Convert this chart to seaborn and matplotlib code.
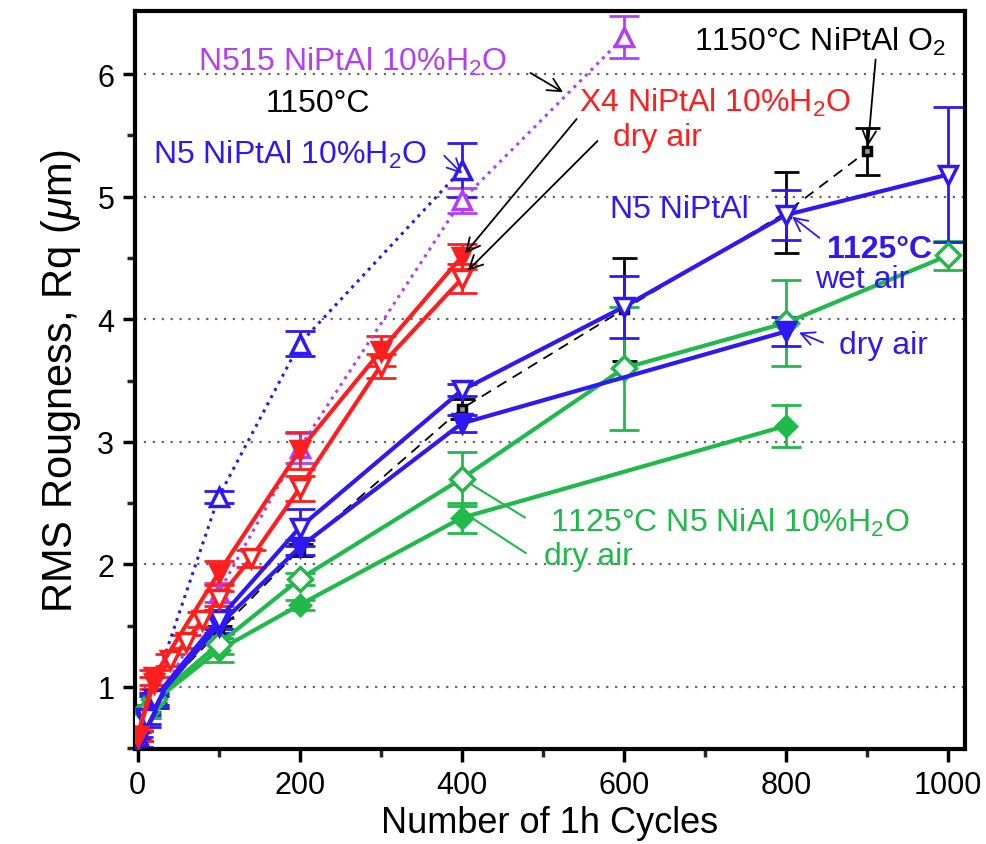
import numpy as np
import pandas as pd
import matplotlib
matplotlib.use("Agg")
import matplotlib.pyplot as plt
import seaborn as sns

# ---------------- data ----------------
x_n515_wet = [0, 100, 200, 400, 600]
y_n515_wet = [0.60, 1.77, 2.95, 4.97, 6.30]
e_n515_wet = [0.04, 0.08, 0.12, 0.10, 0.17]

x_n5_1150_wet = [0, 100, 200, 400]
y_n5_1150_wet = [0.60, 2.55, 3.80, 5.22]
e_n5_1150_wet = [0.04, 0.05, 0.10, 0.22]

x_x4_wet = [0, 20, 100, 200, 300, 400]
y_x4_wet = [0.60, 1.08, 1.93, 2.93, 3.74, 4.51]
e_x4_wet = [0.04, 0.06, 0.10, 0.15, 0.12, 0.10]

x_x4_dry = [0, 20, 40, 60, 80, 100, 140, 200, 300, 400]
y_x4_dry = [0.60, 1.03, 1.22, 1.37, 1.55, 1.72, 2.05, 2.62, 3.62, 4.33]
e_x4_dry = [0.04, 0.05, 0.05, 0.05, 0.06, 0.06, 0.07, 0.10, 0.10, 0.12]

x_n5_1125_wet = [0, 10, 20, 100, 200, 400, 600, 800, 1000]
y_n5_1125_wet = [0.60, 0.75, 0.90, 1.55, 2.30, 3.42, 4.10, 4.85, 5.18]
e_n5_1125_wet = [0.04, 0.05, 0.05, 0.08, 0.15, 0.05, 0.25, 0.20, 0.55]

x_n5_1125_dry = [0, 10, 20, 100, 200, 400, 800]
y_n5_1125_dry = [0.55, 0.72, 0.88, 1.50, 2.14, 3.15, 3.90]
e_n5_1125_dry = [0.04, 0.05, 0.05, 0.06, 0.06, 0.07, 0.12]

x_nial_wet = [0, 10, 20, 100, 200, 400, 600, 800, 1000]
y_nial_wet = [0.75, 0.80, 0.90, 1.35, 1.88, 2.70, 3.60, 3.97, 4.52]
e_nial_wet = [0.05, 0.05, 0.05, 0.08, 0.05, 0.22, 0.50, 0.35, 0.12]

x_nial_dry = [0, 10, 20, 100, 200, 400, 800]
y_nial_dry = [0.70, 0.80, 0.88, 1.30, 1.67, 2.38, 3.13]
e_nial_dry = [0.05, 0.05, 0.05, 0.10, 0.04, 0.12, 0.17]

x_o2 = [0, 20, 100, 200, 400, 600, 800, 900]
y_o2 = [0.60, 0.90, 1.45, 2.12, 3.27, 4.08, 4.87, 5.37]
e_o2 = [0.03, 0.03, 0.05, 0.05, 0.08, 0.42, 0.33, 0.19]

x_ticks = [0, 200, 400, 600, 800, 1000]
y_ticks = [1, 2, 3, 4, 5, 6]

MAG = "#B23EF8"
BLUE = "#2E18F4"
RED = "#FF1E1E"
GREEN = "#1FBA4A"

# ---------------- style ----------------
sns.set_theme(style="ticks")
plt.rcParams["font.family"] = ["Liberation Sans", "DejaVu Sans"]
plt.rcParams["mathtext.fontset"] = "custom"
plt.rcParams["mathtext.rm"] = "Liberation Sans"
plt.rcParams["mathtext.it"] = "Liberation Sans:italic"

fig = plt.figure(figsize=(9.86, 8.45), dpi=100)
ax = fig.add_axes([0.137, 0.1124, 0.8417, 0.8734])

series = [
    # x, y, err, color, marker, mfc, ls, lw, ms
    (x_n515_wet, y_n515_wet, e_n515_wet, MAG, "^", "white", ":", 2.2, 13),
    (x_n5_1150_wet, y_n5_1150_wet, e_n5_1150_wet, BLUE, "^", "white", ":", 2.2, 13),
    (x_o2, y_o2, e_o2, "black", "s", "#999999", (0, (6, 4)), 1.3, 6),
    (x_nial_dry, y_nial_dry, e_nial_dry, GREEN, "D", GREEN, "-", 3.0, 10),
    (x_nial_wet, y_nial_wet, e_nial_wet, GREEN, "D", "white", "-", 3.0, 12),
    (x_n5_1125_dry, y_n5_1125_dry, e_n5_1125_dry, BLUE, "v", BLUE, "-", 3.0, 13),
    (x_n5_1125_wet, y_n5_1125_wet, e_n5_1125_wet, BLUE, "v", "white", "-", 3.0, 13),
    (x_x4_dry, y_x4_dry, e_x4_dry, RED, "v", "white", "-", 3.0, 13),
    (x_x4_wet, y_x4_wet, e_x4_wet, RED, "v", RED, "-", 3.0, 13),
]

for xs, ys, es, c, m, mfc, ls, lw, ms in series:
    df = pd.DataFrame({"x": xs, "y": ys})
    ax.errorbar(xs, ys, yerr=es, fmt="none", ecolor=c, elinewidth=2.0,
                capsize=11 if c != "black" else 9, capthick=2.0, zorder=2)
    sns.lineplot(data=df, x="x", y="y", ax=ax, color=c, marker=m,
                 markersize=ms, markerfacecolor=mfc, markeredgecolor=c,
                 markeredgewidth=2.5, linestyle=ls, linewidth=lw,
                 sort=False, zorder=3)

ax.set_xlim(-3, 1021)
ax.set_ylim(0.494, 6.514)
ax.set_xticks(x_ticks)
ax.set_xticks(np.arange(100, 1000, 200), minor=True)
ax.set_yticks(y_ticks)
ax.set_yticks(np.arange(0.5, 6.5, 1.0), minor=True)
ax.tick_params(axis="both", which="major", labelsize=22, length=9, width=2.5,
               direction="out", color="black", labelcolor="black", pad=6)
ax.tick_params(axis="both", which="minor", length=6, width=2.5, direction="out")
for s in ax.spines.values():
    s.set_linewidth(3.0)
    s.set_color("black")
ax.set_axisbelow(True)
ax.yaxis.grid(True, linestyle=(0, (1, 3)), color="#666666", linewidth=1.6)
ax.xaxis.grid(False)

ax.set_xlabel("Number of 1h Cycles", fontsize=26, labelpad=4, color="black")
ax.set_ylabel(r"RMS Rougness, Rq ($\mu$m)", fontsize=30, labelpad=10, color="black")

# ---------------- annotations ----------------
fs = 23
ax.text(266, 6.11, "N515 NiPtAl 10%H$_2$O", color=MAG, fontsize=fs, ha="center", va="center")
ax.text(223, 5.76, "1150°C", color="black", fontsize=fs, ha="center", va="center")
ax.text(188, 5.35, "N5 NiPtAl 10%H$_2$O", color=BLUE, fontsize=fs, ha="center", va="center")
ax.text(842, 6.27, "1150°C NiPtAl O$_2$", color="black", fontsize=fs, ha="center", va="center")
ax.text(713, 5.77, "X4 NiPtAl 10%H$_2$O", color=RED, fontsize=fs, ha="center", va="center")
ax.text(641, 5.49, "dry air", color=RED, fontsize=fs, ha="center", va="center")
ax.text(669, 4.90, "N5 NiPtAl", color=BLUE, fontsize=fs, ha="center", va="center")
ax.text(916, 4.57, "1125°C", color=BLUE, fontsize=fs, fontweight="bold", ha="center", va="center")
ax.text(894, 4.33, "wet air", color=BLUE, fontsize=fs, ha="center", va="center")
ax.text(920, 3.79, "dry air", color=BLUE, fontsize=fs, ha="center", va="center")
ax.text(731, 2.35, "1125°C N5 NiAl 10%H$_2$O", color=GREEN, fontsize=fs, ha="center", va="center")
ax.text(556, 2.07, "dry air", color=GREEN, fontsize=fs, ha="center", va="center")

arrow_k = dict(arrowstyle="->,head_length=0.8,head_width=0.4", color="black", lw=1.3)
ax.annotate("", xy=(528, 5.84), xytext=(482, 6.02), arrowprops=arrow_k)
ax.annotate("", xy=(901, 5.39), xytext=(911, 6.14), arrowprops=arrow_k)
ax.annotate("", xy=(402, 4.52), xytext=(544, 5.65), arrowprops=arrow_k)
ax.annotate("", xy=(405, 4.38), xytext=(570, 5.47), arrowprops=arrow_k)
arrow_b = dict(arrowstyle="->,head_length=0.8,head_width=0.4", color=BLUE, lw=1.3)
ax.annotate("", xy=(403, 5.17), xytext=(376, 5.35), arrowprops=arrow_b)
ax.annotate("", xy=(805, 4.85), xytext=(844, 4.65), arrowprops=arrow_b)
ax.annotate("", xy=(813, 3.90), xytext=(849, 3.80), arrowprops=arrow_b)
line_g = dict(arrowstyle="-", color=GREEN, lw=1.5)
ax.annotate("", xy=(410, 2.66), xytext=(481, 2.37), arrowprops=line_g)
ax.annotate("", xy=(410, 2.39), xytext=(482, 2.08), arrowprops=line_g)

fig.savefig("out.png", dpi=100)
